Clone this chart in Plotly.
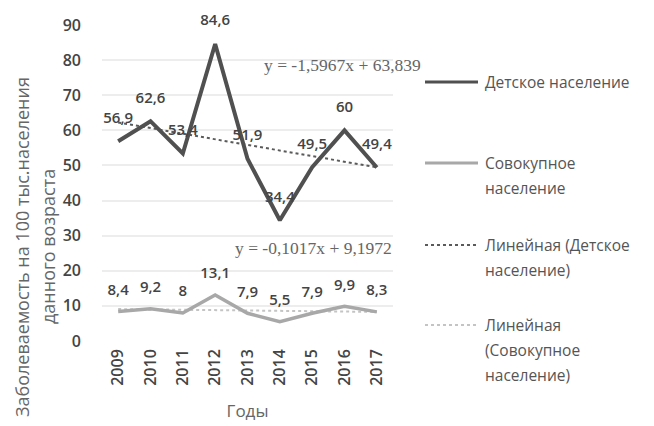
import plotly.graph_objects as go

years = ["2009", "2010", "2011", "2012", "2013", "2014", "2015", "2016", "2017"]
child = [56.9, 62.6, 53.4, 84.6, 51.9, 34.4, 49.5, 60, 49.4]
total = [8.4, 9.2, 8, 13.1, 7.9, 5.5, 7.9, 9.9, 8.3]
child_labels = ["56,9", "62,6", "53,4", "84,6", "51,9", "34,4", "49,5", "60", "49,4"]
total_labels = ["8,4", "9,2", "8", "13,1", "7,9", "5,5", "7,9", "9,9", "8,3"]
trend_child = (-1.5967, 63.839)
trend_total = (-0.1017, 9.1972)
eq_child = "y = -1,5967x + 63,839"
eq_total = "y = -0,1017x + 9,1972"
y_title = ["Заболеваемость на 100 тыс.населения", "данного возраста"]
legend_lines = [["Детское население"],
                ["Совокупное", "население"],
                ["Линейная (Детское", "население)"],
                ["Линейная", "(Совокупное", "население)"]]

FONT = "Open Sans"
pos = list(range(1, len(years) + 1))
tc = [trend_child[0] * i + trend_child[1] for i in pos]
tt = [trend_total[0] * i + trend_total[1] for i in pos]

styles = [dict(color="#505050", width=4),
          dict(color="#a8a8a8", width=3.5),
          dict(color="#5a5a5a", width=2, dash="dot"),
          dict(color="#c4c4c4", width=2, dash="dot")]

# page has an 8px body margin; figure is sized/placed to compensate
OFF = 8
FW, FH = 654 - OFF, 426 - OFF
L, W, T, H = 102 - OFF, 291, 25 - OFF, 316
R = FW - L - W
B = FH - T - H

def px_x(px):  # viewport px -> paper x
    return (px - OFF - L) / W

def px_y(py):  # viewport px -> paper y
    return (OFF + T + H - py) / H

fig = go.Figure()
for ys, st in zip([tc, tt, total, child], [styles[2], styles[3], styles[1], styles[0]]):
    fig.add_trace(go.Scatter(x=pos, y=ys, mode="lines", line=st, showlegend=False,
                             hoverinfo="skip"))

# data labels: invisible markers push the text above each point
lab_font = dict(family=FONT, size=15, color="#444", weight=600)
fig.add_trace(go.Scatter(x=pos, y=child, mode="markers+text", text=child_labels,
                         textposition="top center", textfont=lab_font, cliponaxis=False,
                         marker=dict(size=22, color="rgba(0,0,0,0)"),
                         showlegend=False, hoverinfo="skip"))
fig.add_trace(go.Scatter(x=pos, y=total, mode="markers+text", text=total_labels,
                         textposition="top center", textfont=lab_font, cliponaxis=False,
                         marker=dict(size=19, color="rgba(0,0,0,0)"),
                         showlegend=False, hoverinfo="skip"))

annots = []
annots.append(dict(x=7.94, y=78.6, text=eq_child, showarrow=False,
                   xanchor="center", yanchor="middle",
                   font=dict(family="Liberation Serif", size=17.5, color="#666")))
annots.append(dict(x=7.05, y=26.6, text=eq_total, showarrow=False,
                   xanchor="center", yanchor="middle",
                   font=dict(family="Liberation Serif", size=17.5, color="#666")))
for t, xc in zip(y_title, [22, 48]):
    annots.append(dict(x=px_x(xc), y=px_y(247), xref="paper", yref="paper",
                       xanchor="center", yanchor="middle", text=t,
                       textangle=-90, showarrow=False,
                       font=dict(family=FONT, size=18, color="#666")))

shapes = []
leg_y = [82, 163, 245, 325]
for st, ly, lines in zip(styles, leg_y, legend_lines):
    shapes.append(dict(type="line", xref="paper", yref="paper",
                       x0=px_x(425), x1=px_x(478), y0=px_y(ly), y1=px_y(ly),
                       line=dict(color=st["color"], width=min(st["width"], 3),
                                 dash=st.get("dash", "solid"))))
    for k, t in enumerate(lines):
        annots.append(dict(x=px_x(483), y=px_y(ly + 25 * k), xref="paper", yref="paper",
                           xanchor="left", yanchor="middle", text=t, showarrow=False,
                           font=dict(family=FONT, size=15.5, color="#555")))

fig.update_layout(
    width=FW, height=FH,
    margin=dict(l=L, r=R, t=T, b=B, autoexpand=False),
    paper_bgcolor="white", plot_bgcolor="white",
    font=dict(family=FONT, color="#555"),
    showlegend=False,
    annotations=annots, shapes=shapes,
    xaxis=dict(range=[0.5, 9.5], tickvals=pos, ticktext=years, showgrid=False,
               zeroline=False, showline=False, tickangle=-90, automargin=False,
               tickfont=dict(family=FONT, size=16, color="#444", weight=600),
               ticklabelstandoff=4,
               title=dict(text="Годы", font=dict(family=FONT, size=17, color="#666"), standoff=20)),
    yaxis=dict(range=[0, 90], dtick=10, showgrid=True, gridcolor="#ededed", gridwidth=2,
               zeroline=False, showline=False, automargin=False,
               tickfont=dict(family=FONT, size=16, color="#444", weight=600),
               ticklabelstandoff=20),
)
fig.write_html("out.html")
